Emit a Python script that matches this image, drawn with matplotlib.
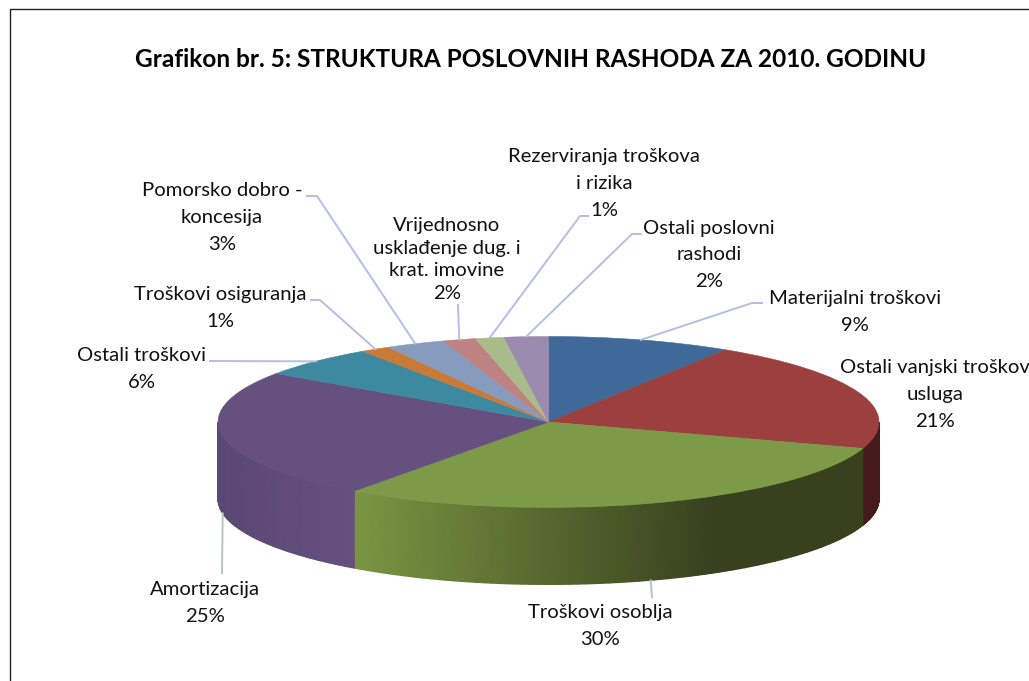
import numpy as np
import matplotlib
matplotlib.use("Agg")
import matplotlib.pyplot as plt
from matplotlib.colors import LinearSegmentedColormap

W, H = 1029, 681
plt.rcParams['font.family'] = ['Lato', 'DejaVu Sans']

# slice shares, clockwise from the top
kategorije = ["Materijalni troškovi", "Ostali vanjski troškov\nusluga", "Troškovi osoblja",
              "Amortizacija", "Ostali troškovi", "Troškovi osiguranja",
              "Pomorsko dobro -\nkoncesija", "Vrijednosno\nusklađenje dug. i\nkrat. imovine",
              "Rezerviranja troškova\ni rizika", "Ostali poslovni\nrashodi"]
udjeli = [9.0, 21.0, 30.0, 24.6, 5.9, 1.45, 2.9, 1.6, 1.4, 2.15]
boje = ["#3f6999", "#9b403e", "#7d9a48", "#665080", "#3d89a0",
        "#ca7a37", "#879bbe", "#be8282", "#aabb8a", "#9b8caf"]

# label centre x and first baseline y, in picture pixels
label_x = [855, 935, 600, 205, 142, 220, 222, 447, 604, 709]
label_y = [304, 373, 618, 595, 361, 300, 196, 231, 162, 234]
razmak = [27, 27, 27, 27, 27, 27, 27, 22.7, 27, 26.5]

# ellipse of the pie top, in picture pixels
cx, cy, rx, ry = 548.5, 422.0, 330.5, 85.5
dubina = 77 / ry


def px(x):
    return (x - cx) / rx


def py(y):
    return (cy - y) / ry


fig = plt.figure(figsize=(W / 100, H / 100), dpi=100)
ax = fig.add_axes([0, 0, 1, 1])

granice = 90 - np.cumsum([0] + udjeli) * 3.6  # math angle of slice edges

# side wall shading: slice index -> colours and the pixel x range they run over
zidovi = {1: (["#461a1a", "#461a1a"], 860, 880),
          2: (["#7a9642", "#38401e"], 354, 717),
          3: (["#5a4774", "#675080"], 218, 354)}

for i, (stupnjevi, x_od, x_do) in zidovi.items():
    a0, a1 = granice[i + 1], granice[i]
    # only the part on the front half of the rim shows
    if i == 1:
        a1 = 0
    if i == 3:
        a0 = -180
    kutovi = np.radians(np.linspace(a0, a1, 80))
    X = np.vstack([np.cos(kutovi), np.cos(kutovi)])
    Y = np.vstack([np.sin(kutovi), np.sin(kutovi) - dubina])
    C = cx + rx * X
    ax.pcolormesh(X, Y, C, shading='gouraud', vmin=x_od, vmax=x_do,
                  cmap=LinearSegmentedColormap.from_list(f"zid{i}", stupnjevi))

kriske, _ = ax.pie(udjeli, colors=boje, startangle=90, counterclock=False, radius=1)
for k, c in zip(kriske, boje):
    k.set_edgecolor(c)
    k.set_linewidth(0.4)
ax.set_aspect('auto')
ax.set_xlim(px(0), px(W))
ax.set_ylim(py(H), py(0))
ax.axis('off')

# leader lines: start on the rim at the middle of the slice
sredine = np.radians((np.cumsum(udjeli) - np.array(udjeli) / 2) * 3.6)
vodilice = {0: [(752, 303), (762, 303)],
            2: [(652, 597)],
            3: [(222, 573)],
            4: [(210, 361)],
            5: [(320, 300), (311, 300)],
            6: [(317, 196), (307, 196)],
            7: [(458, 305)],
            8: [(580, 216), (588, 216)],
            9: [(632, 234), (641, 234)]}
for i, tocke in vodilice.items():
    x0, y0 = np.sin(sredine[i]), np.cos(sredine[i])
    if y0 < 0:
        y0 -= dubina
    xs = [x0] + [px(t[0]) for t in tocke]
    ys = [y0] + [py(t[1]) for t in tocke]
    c = '#b4c6c4' if y0 < 0 else '#b4bfe6'
    ax.plot(xs, ys, color=c, lw=1.4, solid_joinstyle='round', zorder=4)

for i, k in enumerate(kategorije):
    redovi = k.split("\n") + [f"{round(udjeli[i])}%"]
    for j, red in enumerate(redovi):
        ax.text(px(label_x[i]), py(label_y[i] + j * razmak[i]), red, ha='center', va='baseline',
                fontsize=14.6, color='#111111', zorder=5)

ax.text(px(531), py(67), "Grafikon br. 5: STRUKTURA POSLOVNIH RASHODA ZA 2010. GODINU",
        ha='center', va='baseline', fontsize=17.55, fontweight='bold', color='black')

# chart frame, cut by the picture on the right and at the bottom
ax.plot([px(9.5), px(9.5), px(W)], [py(H), py(9.5), py(9.5)], color='#222222', lw=1, zorder=6)

fig.savefig("out.png", dpi=100, facecolor='white')
